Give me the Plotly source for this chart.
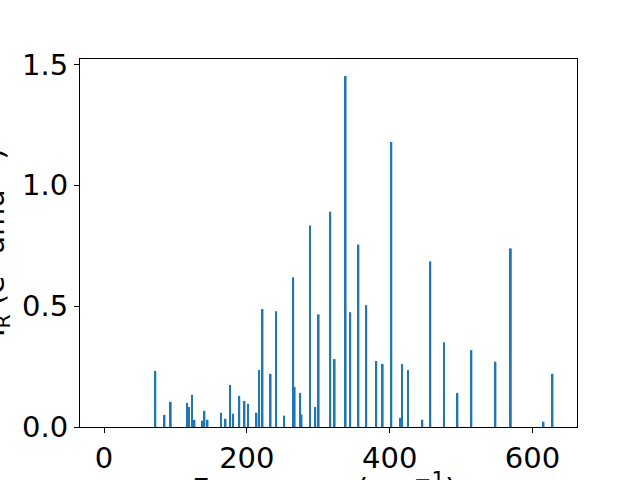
import plotly.graph_objects as go

frequencies = [72, 84.8, 93.5, 116.4, 119.2, 123.4, 126.7, 137.4, 140.7, 145,
               164, 170.2, 176.7, 180.9, 189.5, 196.8, 201.9, 213.6, 217.3, 222,
               233.3, 241.1, 252.4, 265, 267, 274.8, 276.7, 288.4, 295.8, 300.6,
               316.9, 323, 338.4, 344.9, 356.3, 367.3, 381.3, 390.3, 402.4, 415,
               417.4, 425.8, 445.8, 457, 476, 494.9, 514.5, 548.2, 569.7, 615.5,
               628.1]
intensities = [0.232, 0.05, 0.104, 0.100, 0.083, 0.133, 0.030, 0.026, 0.067, 0.030,
               0.059, 0.034, 0.174, 0.055, 0.129, 0.108, 0.096, 0.059, 0.236, 0.488,
               0.220, 0.479, 0.047, 0.619, 0.166, 0.141, 0.051, 0.834, 0.083, 0.466,
               0.891, 0.281, 1.452, 0.475, 0.755, 0.504, 0.273, 0.261, 1.179, 0.038,
               0.261, 0.236, 0.030, 0.685, 0.351, 0.141, 0.318, 0.270, 0.739, 0.022,
               0.220]
x_ticks = [0, 200, 400, 600]
y_ticks = [0.0, 0.5, 1.0, 1.5]
x_title = "Frequency (cm<sup>−1</sup>)"
y_title = "I<sub>R</sub> (e<sup>2</sup> amu<sup>−1</sup>)"

FONT = "DejaVu Sans"
FS = 29

fig = go.Figure()
fig.add_trace(go.Bar(x=frequencies, y=intensities, width=2.5,
                     marker=dict(color="#1f77b4", line=dict(width=0))))

axis_common = dict(showgrid=False, zeroline=False, showline=True, linecolor="black",
                   linewidth=1, mirror=True, ticks="outside", ticklen=5, tickwidth=1,
                   tickcolor="black", automargin=False,
                   tickfont=dict(family=FONT, size=FS, color="black"))

fig.update_layout(
    width=640, height=480,
    margin=dict(l=80, r=63, t=59, b=53),
    paper_bgcolor="white", plot_bgcolor="white",
    showlegend=False,
    xaxis=dict(range=[-33.6, 662.3], tickvals=x_ticks, ticktext=[str(v) for v in x_ticks],
               **axis_common),
    yaxis=dict(range=[0, 1.5225], tickvals=y_ticks, ticktext=[f"{v:.1f}" for v in y_ticks],
               **axis_common),
    annotations=[
        dict(text=x_title, xref="paper", yref="paper", x=0.5 - 4/497, y=-0.165,
             xanchor="center", yanchor="middle", showarrow=False,
             font=dict(family=FONT, size=30, color="black")),
        dict(text=y_title, xref="paper", yref="paper", x=-86/497, y=0.5,
             xanchor="center", yanchor="middle", showarrow=False, textangle=-90,
             font=dict(family=FONT, size=FS, color="black")),
    ],
)

fig.write_html("out.html", config={"displayModeBar": False},
               post_script="document.body.style.margin='0';")
